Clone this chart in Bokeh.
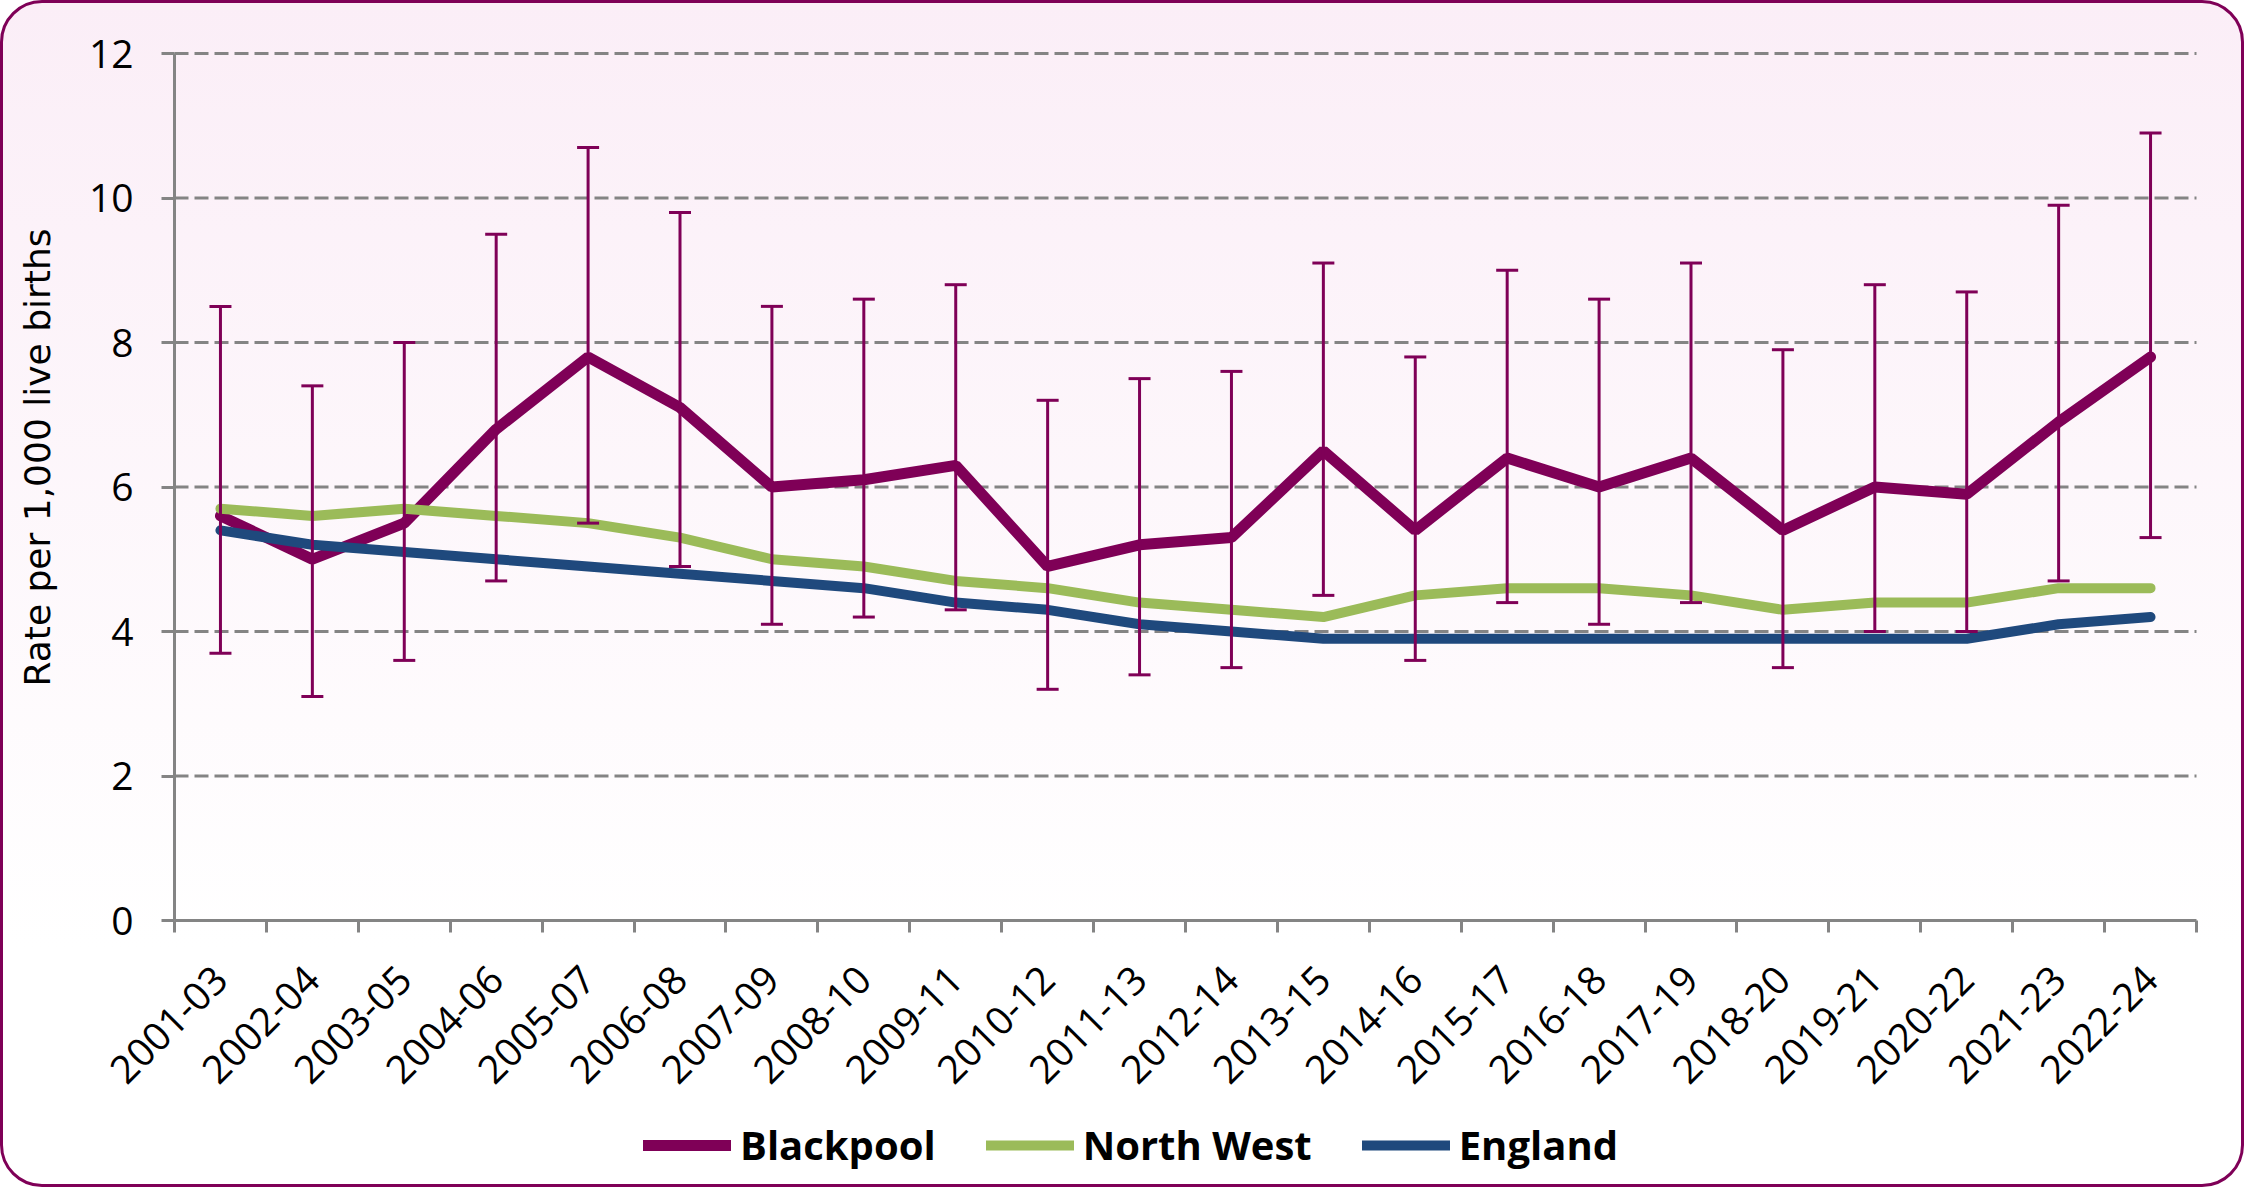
import numpy as np
from math import pi
from bokeh.plotting import figure
from bokeh.models import (ColumnDataSource, FixedTicker, Legend, LegendItem, Label,
                          Whisker, TeeHead, CustomJSTickFormatter, Range1d)
from bokeh.embed import file_html
from bokeh.resources import INLINE

# ---------------- data ----------------
periods = ["2001-03", "2002-04", "2003-05", "2004-06", "2005-07", "2006-08",
           "2007-09", "2008-10", "2009-11", "2010-12", "2011-13", "2012-14",
           "2013-15", "2014-16", "2015-17", "2016-18", "2017-19", "2018-20",
           "2019-21", "2020-22", "2021-23", "2022-24"]
blackpool = [5.6, 5.0, 5.5, 6.8, 7.8, 7.1, 6.0, 6.1, 6.3, 4.9, 5.2,
             5.3, 6.5, 5.4, 6.4, 6.0, 6.4, 5.4, 6.0, 5.9, 6.9, 7.8]
blackpool_lower = [3.7, 3.1, 3.6, 4.7, 5.5, 4.9, 4.1, 4.2, 4.3, 3.2, 3.4,
                   3.5, 4.5, 3.6, 4.4, 4.1, 4.4, 3.5, 4.0, 4.0, 4.7, 5.3]
blackpool_upper = [8.5, 7.4, 8.0, 9.5, 10.7, 9.8, 8.5, 8.6, 8.8, 7.2, 7.5,
                   7.6, 9.1, 7.8, 9.0, 8.6, 9.1, 7.9, 8.8, 8.7, 9.9, 10.9]
north_west = [5.7, 5.6, 5.7, 5.6, 5.5, 5.3, 5.0, 4.9, 4.7, 4.6, 4.4,
              4.3, 4.2, 4.5, 4.6, 4.6, 4.5, 4.3, 4.4, 4.4, 4.6, 4.6]
england = [5.4, 5.2, 5.1, 5.0, 4.9, 4.8, 4.7, 4.6, 4.4, 4.3, 4.1,
           4.0, 3.9, 3.9, 3.9, 3.9, 3.9, 3.9, 3.9, 3.9, 4.1, 4.2]
y_ticks = [0, 2, 4, 6, 8, 10, 12]
series_names = ["Blackpool", "North West", "England"]
y_title = "Rate per 1,000 live births"

# ---------------- styles / layout (pixels) ----------------
BP_COL = "#7F0057"
NW_COL = "#9BBB59"
EN_COL = "#1F497D"
GREY = "#848484"

W, H = 2244, 1187            # inside a 3px CSS border -> 2250 x 1193
LEFT, RIGHT = 171, 51        # room left / right of the plotting area
TOP, PLOT_H = 50, 867        # room above y=12, height from y=12 to y=0
TITLE_X, TITLE_Y = 34, 454   # centre of the rotated y-axis title

n = len(periods)
y_top = y_ticks[-1]
px_x = (W - LEFT - RIGHT) / n
px_y = PLOT_H / y_top
x_min, x_max = -LEFT / px_x, n + RIGHT / px_x
y_max = y_top + TOP / px_y
y_min = -(H - TOP - PLOT_H) / px_y

xc = np.arange(n) + 0.5
src = ColumnDataSource(dict(x=xc, bp=blackpool, lo=blackpool_lower,
                            hi=blackpool_upper, nw=north_west, en=england))
grid_src = ColumnDataSource(dict(y=y_ticks[1:]))

p = figure(width=W, height=H, x_range=Range1d(x_min, x_max),
           y_range=Range1d(y_min, y_max),
           output_backend="svg", toolbar_location=None,
           min_border_left=0, min_border_right=0,
           min_border_top=0, min_border_bottom=0)
p.styles = {"border": "3px solid " + BP_COL,
            "border-radius": "42px",
            "background": "linear-gradient(to bottom, #FBEEF7 0%, #FFFFFF 80%)"}
p.border_fill_alpha = 0
p.background_fill_alpha = 0
p.outline_line_color = None
p.xgrid.grid_line_color = None
p.ygrid.grid_line_color = None

# dashed horizontal gridlines, only across the plotting area
p.segment(x0=0, y0="y", x1=n, y1="y", source=grid_src, line_color=GREY,
          line_width=3, line_dash="14 6", level="underlay")

# y axis fixed at x=0
p.yaxis.fixed_location = 0
p.yaxis.ticker = FixedTicker(ticks=y_ticks)
p.yaxis.bounds = (y_ticks[0], y_ticks[-1])
p.yaxis.axis_line_color = GREY
p.yaxis.axis_line_width = 3
p.yaxis.major_tick_line_color = GREY
p.yaxis.major_tick_line_width = 3
p.yaxis.major_tick_out = 13
p.yaxis.major_tick_in = 0
p.yaxis.minor_tick_line_color = None
p.yaxis.major_label_text_font = "Open Sans"
p.yaxis.major_label_text_font_size = "39px"
p.yaxis.major_label_text_color = "black"
p.yaxis.major_label_standoff = 28

# x axis fixed at y=0: labels at category centres, ticks at boundaries
p.xaxis.fixed_location = 0
p.xaxis.bounds = (0, n)
p.xaxis.ticker = FixedTicker(ticks=list(xc), minor_ticks=list(range(n + 1)))
p.xaxis.formatter = CustomJSTickFormatter(args=dict(labels=periods),
                                          code="return labels[Math.round(tick - 0.5)];")
p.xaxis.axis_line_color = GREY
p.xaxis.axis_line_width = 3
p.xaxis.major_tick_line_color = None
p.xaxis.major_tick_out = 0
p.xaxis.major_tick_in = 0
p.xaxis.minor_tick_line_color = GREY
p.xaxis.minor_tick_line_width = 3
p.xaxis.minor_tick_out = 12
p.xaxis.minor_tick_in = 0
p.xaxis.major_label_orientation = pi / 4
p.xaxis.major_label_text_font = "Open Sans"
p.xaxis.major_label_text_font_size = "39px"
p.xaxis.major_label_text_color = "black"
p.xaxis.major_label_standoff = 40

# y-axis title
p.add_layout(Label(x=x_min + TITLE_X / px_x, y=y_max - TITLE_Y / px_y,
                   text=y_title, angle=pi / 2, text_align="center",
                   text_baseline="middle", text_font="DejaVu Sans",
                   text_font_size="36px", text_color="black"))

# series
r_bp = p.line("x", "bp", source=src, line_color=BP_COL, line_width=11, line_cap="round")
r_nw = p.line("x", "nw", source=src, line_color=NW_COL, line_width=10, line_cap="round")
r_en = p.line("x", "en", source=src, line_color=EN_COL, line_width=10, line_cap="round")

wh = Whisker(base="x", upper="hi", lower="lo", source=src, dimension="height",
             line_color=BP_COL, line_width=3, level="annotation",
             upper_head=TeeHead(size=22, line_color=BP_COL, line_width=3),
             lower_head=TeeHead(size=22, line_color=BP_COL, line_width=3))
p.add_layout(wh)

legend = Legend(items=[LegendItem(label=series_names[0], renderers=[r_bp]),
                       LegendItem(label=series_names[1], renderers=[r_nw]),
                       LegendItem(label=series_names[2], renderers=[r_en])],
                orientation="horizontal", location=(640, 18),
                glyph_width=88, glyph_height=40, label_height=40,
                label_standoff=9, spacing=50, padding=0, margin=0,
                border_line_color=None, background_fill_alpha=0,
                label_text_font="Open Sans", label_text_font_style="bold",
                label_text_font_size="40px", label_text_color="black")
p.add_layout(legend, "center")

open("out.html", "w").write(file_html(p, INLINE))
